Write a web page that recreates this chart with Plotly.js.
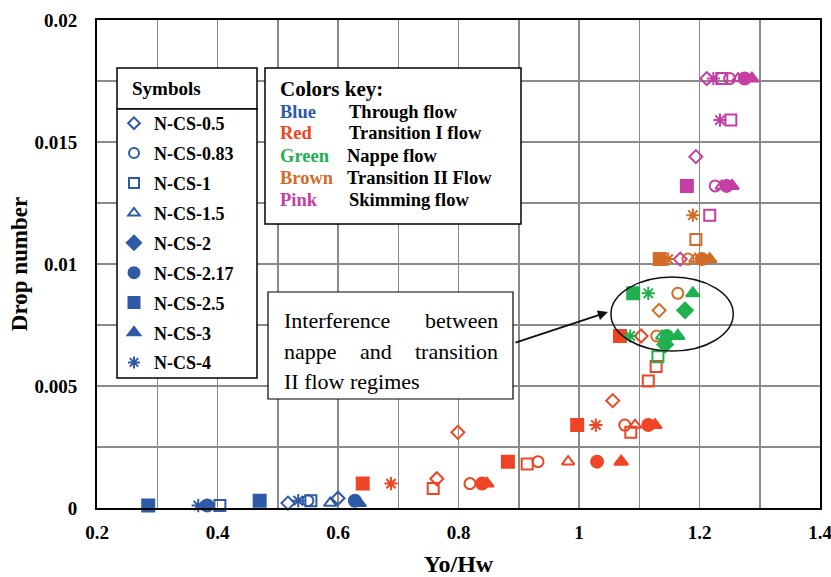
<!DOCTYPE html>
<html><head><meta charset="utf-8">
<script src="https://cdn.plot.ly/plotly-3.0.1.min.js"></script>
<style>html,body{margin:0;padding:0;background:#fff}#chart{width:831px;height:577px}</style>
</head><body><div id="chart"></div>
<script>
// ---- data ----
const seriesNames = ['N-CS-0.5','N-CS-0.83','N-CS-1','N-CS-1.5','N-CS-2','N-CS-2.17','N-CS-2.5','N-CS-3','N-CS-4'];
// regimes: B=Through flow, R=Transition I, G=Nappe, Br=Transition II, P=Skimming
const cs05X = [0.517,0.600,0.764,0.799,1.056,1.103,1.133,1.168,1.194,1.212];
const cs05Y = [0.0002,0.0004,0.0012,0.0031,0.0044,0.00705,0.0081,0.0102,0.0144,0.0176];
const cs05R = ['B','B','R','R','R','R','Br','P','P','P'];
const cs083X = [0.550,0.819,0.932,1.076,1.129,1.164,1.181,1.226,1.250];
const cs083Y = [0.0003,0.0010,0.0019,0.0034,0.00705,0.0088,0.0102,0.0132,0.0176];
const cs083R = ['B','R','R','R','Br','Br','Br','P','P'];
const cs1X = [0.404,0.555,0.758,0.914,1.086,1.115,1.128,1.131,1.194,1.217,1.252,1.237];
const cs1Y = [0.0001,0.0003,0.0008,0.0018,0.0031,0.0052,0.0058,0.0062,0.0110,0.0120,0.0159,0.0176];
const cs1R = ['B','B','R','R','R','R','R','G','Br','P','P','P'];
const cs15X = [0.587,0.982,1.093,1.138,1.193,1.237,1.264];
const cs15Y = [0.0002,0.0019,0.0034,0.00705,0.0102,0.0132,0.0176];
const cs15R = ['B','R','R','G','Br','P','P'];
const cs2X = [1.143,1.176];
const cs2Y = [0.0067,0.0081];
const cs2R = ['G','G'];
const cs217X = [0.383,0.628,0.839,1.030,1.115,1.146,1.204,1.245,1.275];
const cs217Y = [0.0001,0.0003,0.0010,0.0019,0.0034,0.00705,0.0102,0.0132,0.0176];
const cs217R = ['B','B','R','R','R','G','Br','P','P'];
const cs25X = [0.285,0.470,0.641,0.882,0.997,1.068,1.090,1.134,1.179];
const cs25Y = [0.0001,0.0003,0.0010,0.0019,0.0034,0.00705,0.0088,0.0102,0.0132];
const cs25R = ['B','B','R','R','R','R','G','Br','P'];
const cs3X = [0.635,0.847,1.070,1.126,1.164,1.189,1.217,1.254,1.287];
const cs3Y = [0.0002,0.0010,0.0019,0.0034,0.00705,0.0088,0.0102,0.0132,0.0176];
const cs3R = ['B','R','R','R','G','G','Br','P','P'];
const cs4X = [0.368,0.534,0.688,1.028,1.085,1.115,1.148,1.189,1.234,1.223];
const cs4Y = [0.0001,0.0003,0.0010,0.0034,0.00705,0.0088,0.0102,0.0120,0.0159,0.0176];
const cs4R = ['B','B','R','R','G','G','Br','Br','P','P'];

const xTicks = [0.2,0.4,0.6,0.8,1.0,1.2,1.4];
const xTickText = ['0.2','0.4','0.6','0.8','1','1.2','1.4'];
const yTicks = [0,0.005,0.01,0.015,0.02];
const yTickText = ['0','0.005','0.01','0.015','0.02'];

const colorWords = ['Blue','Red','Green','Brown','Pink'];
const regimeNames = ['Through flow','Transition I flow','Nappe flow','Transition II Flow','Skimming flow'];
const annotLines = [['Interference','between'],['nappe','and','transition'],['II flow regimes']];

// ---- style ----
const COL = {B:'#2F5AA6', R:'#EF4524', G:'#21B04F', Br:'#D36C26', P:'#C53EA3'};
const wordCol = [COL.B, COL.R, COL.G, COL.Br, COL.P];
const symbols = ['diamond-open','circle-open','square-open','triangle-up-open','diamond','circle','square','triangle-up','asterisk-open'];
const sizes = [10,11,11,11,12,12,12,12,11];
const seriesX = [cs05X,cs083X,cs1X,cs15X,cs2X,cs217X,cs25X,cs3X,cs4X];
const seriesY = [cs05Y,cs083Y,cs1Y,cs15Y,cs2Y,cs217Y,cs25Y,cs3Y,cs4Y];
const seriesR = [cs05R,cs083R,cs1R,cs15R,cs2R,cs217R,cs25R,cs3R,cs4R];

const W = 831, H = 577, L = 97, R = 820, T = 20, B = 508;
const px = x => (x - L) / (R - L);
const py = y => (B - y) / (B - T);
const FONT = 'Liberation Serif, Times New Roman, serif';

const traces = [];
seriesNames.forEach((n,i) => {
  const cols = seriesR[i].map(r => COL[r]);
  traces.push({
    type:'scatter', mode:'markers', x:seriesX[i], y:seriesY[i], name:n,
    showlegend:false, cliponaxis:false,
    marker:{symbol:symbols[i], size:sizes[i], color:cols, line:{color:cols, width:2}}
  });
});
// legend entries
seriesNames.forEach((n,i) => {
  traces.push({
    type:'scatter', mode:'markers', x:[null], y:[null], name:n, legendgroup:n,
    showlegend:true,
    marker:{symbol:symbols[i], size:sizes[i]-1, color:COL.B, line:{color:COL.B, width:2}}
  });
});

const shapes = [
  {type:'rect', xref:'paper', yref:'paper', x0:px(117), x1:px(257), y0:py(68), y1:py(109), line:{color:'#000',width:1.5}, fillcolor:'#fff'},
  {type:'rect', xref:'paper', yref:'paper', x0:px(117), x1:px(257), y0:py(109), y1:py(378), line:{color:'#000',width:1.5}, fillcolor:'#fff'},
  {type:'rect', xref:'paper', yref:'paper', x0:px(265), x1:px(521), y0:py(68), y1:py(224), line:{color:'#000',width:1.5}, fillcolor:'#fff'},
  {type:'rect', xref:'paper', yref:'paper', x0:px(268), x1:px(513), y0:py(292), y1:py(399), line:{color:'#000',width:1.2}, fillcolor:'#fff'},
  {type:'circle', xref:'x', yref:'y', x0:1.053, x1:1.256, y0:0.00643, y1:0.00947, line:{color:'#111',width:1.5}, layer:'above'}
];

const ann = [];
ann.push({xref:'paper', yref:'paper', x:px(130), y:py(88), xanchor:'left', yanchor:'middle', showarrow:false,
  text:'<b>Symbols</b>', font:{family:FONT, size:19, color:'#000'}});
ann.push({xref:'paper', yref:'paper', x:px(278), y:py(89), xanchor:'left', yanchor:'middle', showarrow:false,
  text:'<b>Colors key:</b>', font:{family:FONT, size:21, color:'#000'}});
const keyY = [112,133,156,178,200];
colorWords.forEach((w,i) => {
  ann.push({xref:'paper', yref:'paper', x:px(278), y:py(keyY[i]), xanchor:'left', yanchor:'middle', showarrow:false,
    text:'<b>'+w+'</b>', font:{family:FONT, size:18.5, color:wordCol[i]}});
  ann.push({xref:'paper', yref:'paper', x:px(i===2||i===3?345:347), y:py(keyY[i]), xanchor:'left', yanchor:'middle', showarrow:false,
    text:'<b>'+regimeNames[i]+'</b>', font:{family:FONT, size:18.5, color:'#000'}});
});
// justified text box
const lineY = [320,351,381];
annotLines.forEach((words,li) => {
  words.forEach((w,wi) => {
    let x, anchor;
    if (words.length === 1) { x = 282; anchor = 'left'; }
    else if (wi === 0) { x = 282; anchor = 'left'; }
    else if (wi === words.length-1) { x = 500; anchor = 'right'; }
    else { x = 376; anchor = 'center'; }
    ann.push({xref:'paper', yref:'paper', x:px(x), y:py(lineY[li]), xanchor:anchor, yanchor:'middle', showarrow:false,
      text:w, font:{family:FONT, size:22, color:'#000'}});
  });
});
// arrow
ann.push({xref:'x', yref:'y', x:1.048, y:0.00803, ax:-94, ay:31, axref:'pixel', ayref:'pixel', text:'', showarrow:true,
  arrowhead:2, arrowsize:1, arrowwidth:2, arrowcolor:'#111'});

const layout = {
  width:W, height:H, margin:{l:L, r:W-R, t:T, b:H-B},
  paper_bgcolor:'#fff', plot_bgcolor:'#fff', showlegend:true,
  font:{family:FONT, color:'#000'},
  xaxis:{range:[0.2,1.4], tickmode:'array', tickvals:xTicks, ticktext:xTickText, showgrid:true, gridcolor:'#8a8a8a', gridwidth:1.5,
    minor:{dtick:0.1, tick0:0.2, showgrid:true, gridcolor:'#8a8a8a', gridwidth:1.5},
    showline:true, linecolor:'#000', linewidth:2, mirror:true, zeroline:false, ticks:'', ticklabelstandoff:6,
    ticklabeloverflow:'allow',
    tickfont:{family:FONT, size:19, color:'#000', weight:'bold'},
    title:{text:'<b>Yo/Hw</b>', font:{family:FONT, size:24, color:'#000'}, standoff:16}},
  yaxis:{range:[0,0.02], tickmode:'array', tickvals:yTicks, ticktext:yTickText, showgrid:true, gridcolor:'#8a8a8a', gridwidth:1.5,
    minor:{dtick:0.0025, tick0:0, showgrid:true, gridcolor:'#8a8a8a', gridwidth:1.5},
    showline:true, linecolor:'#000', linewidth:2, mirror:true, zeroline:false, ticks:'', ticklabelstandoff:14,
    ticklabeloverflow:'allow',
    tickfont:{family:FONT, size:19, color:'#000', weight:'bold'},
    title:{text:'<b>Drop number</b>', font:{family:FONT, size:23, color:'#000'}, standoff:0}},
  legend:{x:px(114), y:py(105), xanchor:'left', yanchor:'top', bgcolor:'rgba(0,0,0,0)', borderwidth:0,
    traceorder:'grouped', tracegroupgap:3.5, itemwidth:30,
    font:{family:FONT, size:18, color:'#000', weight:'bold'}},
  shapes:shapes, annotations:ann
};
Plotly.newPlot('chart', traces, layout, {displayModeBar:false, staticPlot:true});
</script></body></html>
